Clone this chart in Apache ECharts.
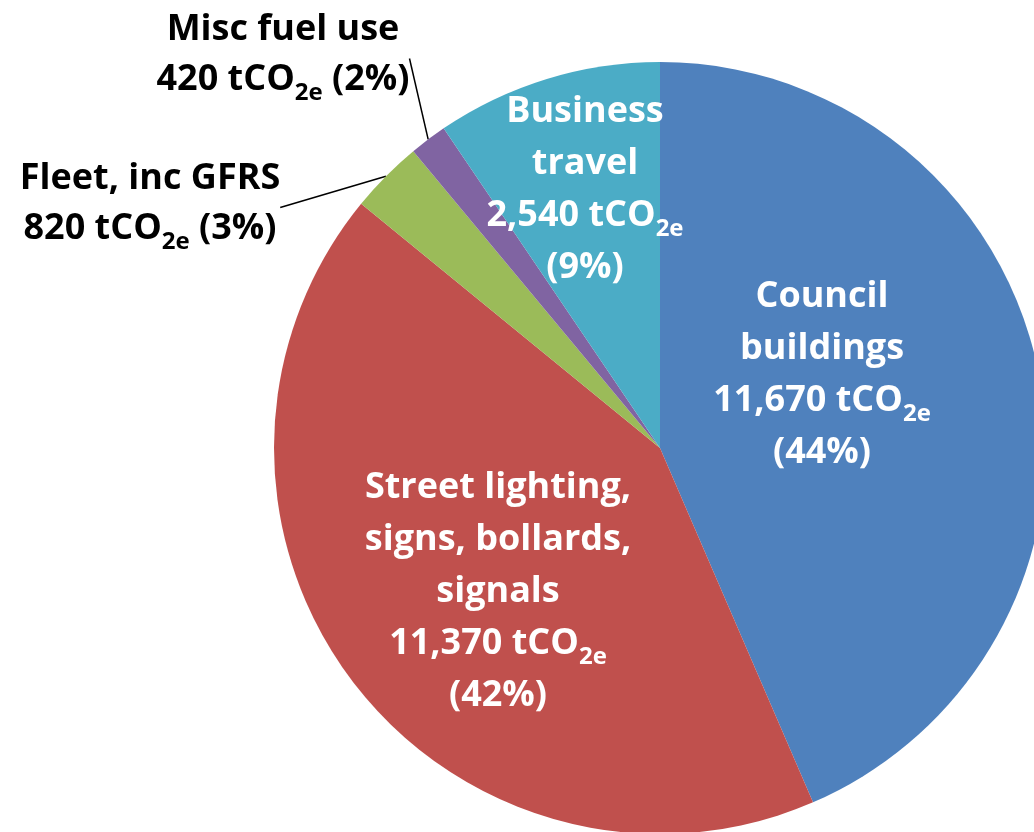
<!DOCTYPE html>
<html>
<head>
<meta charset="utf-8">
<script src="https://cdn.jsdelivr.net/npm/echarts@6/dist/echarts.min.js"></script>
<style>
html, body { margin: 0; padding: 0; background: #fff; }
#main { width: 1034px; height: 832px; }
</style>
</head>
<body>
<div id="main"></div>
<script>
// categories and values (tCO2e)
var categories = ['Council\nbuildings', 'Street lighting,\nsigns, bollards,\nsignals', 'Fleet, inc GFRS', 'Misc fuel use', 'Business\ntravel'];
var values = [11670, 11370, 820, 420, 2540];
var outsideLabel = [false, false, true, true, false];

var colors = ['#4F81BD', '#C0504D', '#9BBB59', '#8064A2', '#4BACC6'];
// label block centres
var labelPos = [[822, 375], [498, 592], [150, 204], [283, 55], [585, 190]];

var chart = echarts.init(document.getElementById('main'));

function fmt(n) {
    return n.toLocaleString('en-US');
}

var seriesData = categories.map(function (name, i) {
    var outside = outsideLabel[i];
    var txtColor = outside ? '#000' : '#fff';
    return {
        name: name,
        value: values[i],
        itemStyle: { color: colors[i] },
        label: {
            position: outside ? 'outside' : 'inside',
            color: txtColor,
            rich: {
                a: { fontFamily: 'Open Sans', fontWeight: 'bold', fontSize: 36, lineHeight: outside ? 50 : 52, color: txtColor },
                s: { fontFamily: 'Open Sans', fontWeight: 'bold', fontSize: 24, lineHeight: 20, padding: [26, 0, 0, 0], color: txtColor }
            }
        },
        labelLine: {
            show: outside,
            length: 2,
            length2: 0,
            lineStyle: { color: '#000', width: 1.5 }
        }
    };
});

var option = {
    backgroundColor: '#fff',
    animation: false,
    series: [
        {
            type: 'pie',
            center: [660, 448],
            radius: 386,
            startAngle: 90,
            clockwise: true,
            avoidLabelOverlap: false,
            emphasis: { disabled: true },
            label: {
                show: true,
                formatter: function (p) {
                    var pct = Math.round(p.percent) + '%';
                    var val = fmt(p.value);
                    if (outsideLabel[p.dataIndex]) {
                        return '{a|' + p.name + '}\n{a|' + val + ' tCO}{s|2e}{a| (' + pct + ')}';
                    }
                    return '{a|' + p.name + '}\n{a|' + val + ' tCO}{s|2e}\n{a|(' + pct + ')}';
                }
            },
            labelLayout: function (params) {
                var p = labelPos[params.dataIndex];
                return { x: p[0], y: p[1], align: 'center', verticalAlign: 'middle' };
            },
            data: seriesData
        }
    ]
};

chart.setOption(option);
</script>
</body>
</html>
